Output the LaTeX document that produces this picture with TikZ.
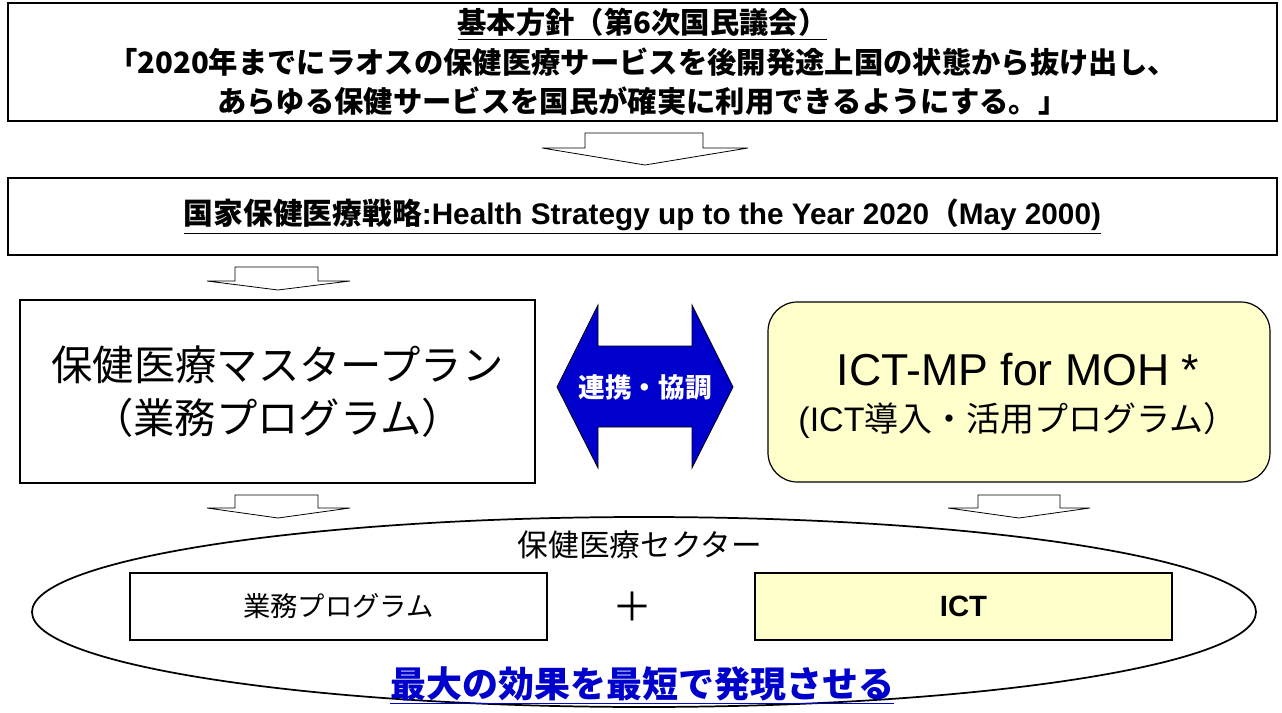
\documentclass[tikz,border=0pt]{standalone}
\usepackage{fontspec}
\setmainfont{Liberation Sans}
\newfontfamily\jp{Noto Sans CJK JP}
\usetikzlibrary{shapes.geometric}

\begin{document}
\begin{tikzpicture}[x=0.75pt,y=0.75pt,yscale=-1,xscale=1]
%set diagram left start at 0, and has height of 713
\useasboundingbox (0,0) rectangle (1282,713);

%Shape: Rectangle [id:policy] 
\node [draw, line width=0.9pt, inner sep=0pt, minimum width=951.75pt, minimum height=88.5pt, align=center, font=\jp\bfseries\fontsize{22}{29.5}\selectfont] (policy) at (642.5,62) {\underline{基本方針（第6次国民議会）}\\「2020年までにラオスの保健医療サービスを後開発途上国の状態から抜け出し、\\あらゆる保健サービスを国民が確実に利用できるようにする。」};
%Shape: Rectangle [id:strategy] 
\node [draw, line width=0.9pt, inner sep=0pt, minimum width=951.75pt, minimum height=57.75pt, font=\bfseries\fontsize{22.3}{26}\selectfont] (strategy) at (642.5,216.5) {\underline{{\jp 国家保健医療戦略}:Health Strategy up to the Year 2020{\jp （}May 2000)}};
%Shape: Rectangle [id:master] 
\node [draw, line width=0.9pt, inner sep=0pt, minimum width=386.25pt, minimum height=137.25pt, align=center, font=\jp\fontsize{31}{40}\selectfont] (master) at (277.5,391.5) {保健医療マスタープラン\\（業務プログラム）};
%Rounded Rect [id:ictmp] 
\node [draw, line width=0.9pt, rounded corners=22pt, fill={rgb, 255:red, 255; green, 255; blue, 204 }, inner sep=0pt, minimum width=376.5pt, minimum height=135pt, align=center, font=\fontsize{25.5}{38}\selectfont] (ictmp) at (1019,392) {};
% Text Node
\node [font=\fontsize{33.5}{38}\selectfont] (ictmptitle) at (1018,370) {ICT-MP for MOH *};
% Text Node
\node [font=\fontsize{25.5}{30}\selectfont] (ictmpsub) at (1018,420) {(ICT{\jp 導入・活用プログラム）}};

%Down Arrow [id:arrowtop] 
\draw [line width=0.6, fill=white]  (585,133) -- (703,133) -- (703,148) -- (748,148) -- (645,165) -- (542,148) -- (585,148) -- cycle ;
%Down Arrow [id:arrowleft] 
\draw [line width=0.6, fill=white]  (235,267) -- (318,267) -- (318,281) -- (350,281) -- (278,290) -- (207,281) -- (235,281) -- cycle ;

%Left Right Arrow [id:link] 
\draw [line width=0.6, fill={rgb, 255:red, 0; green, 0; blue, 204 }]  (557,387) -- (598,305) -- (598,346) -- (692,346) -- (692,305) -- (733,387) -- (692,468) -- (692,427) -- (598,427) -- (598,468) -- cycle ;
% Text Node
\node [text=white, font=\jp\bfseries\fontsize{20}{24}\selectfont] (linklabel) at (645,387) {連携・協調};

%Shape: Ellipse [id:sector] 
\node [draw, ellipse, line width=1.3pt, inner sep=0pt, minimum width=918pt, minimum height=142.5pt] (sector) at (644,612) {};

%Down Arrow [id:arrowmaster] 
\draw [line width=0.6, fill=white]  (235,495) -- (318,495) -- (318,508) -- (350,508) -- (278,518) -- (207,508) -- (235,508) -- cycle ;
%Down Arrow [id:arrowictmp] 
\draw [line width=0.6, fill=white]  (978,495) -- (1060,495) -- (1060,508) -- (1090,508) -- (1019,518) -- (948,508) -- (978,508) -- cycle ;

% Text Node
\node [font=\jp\fontsize{23}{28}\selectfont] (sectorlabel) at (640,545) {保健医療セクター};
%Shape: Rectangle [id:work] 
\node [draw, line width=0.9pt, inner sep=0pt, minimum width=312.75pt, minimum height=50.25pt, font=\jp\fontsize{20.5}{24}\selectfont] (work) at (338.5,606.5) {業務プログラム};
% Text Node
\node [font=\jp\fontsize{30}{34}\selectfont] (plus) at (632,607) {＋};
%Shape: Rectangle [id:ict] 
\node [draw, line width=0.9pt, fill={rgb, 255:red, 255; green, 255; blue, 204 }, inner sep=0pt, minimum width=312.75pt, minimum height=50.25pt, font=\bfseries\fontsize{22}{26}\selectfont] (ict) at (963.5,606.5) {ICT};
% Text Node
\node [text={rgb, 255:red, 0; green, 0; blue, 204 }, font=\jp\bfseries\fontsize{27}{32}\selectfont] (effect) at (642,685) {\underline{最大の効果を最短で発現させる}};

\end{tikzpicture}
\end{document}
